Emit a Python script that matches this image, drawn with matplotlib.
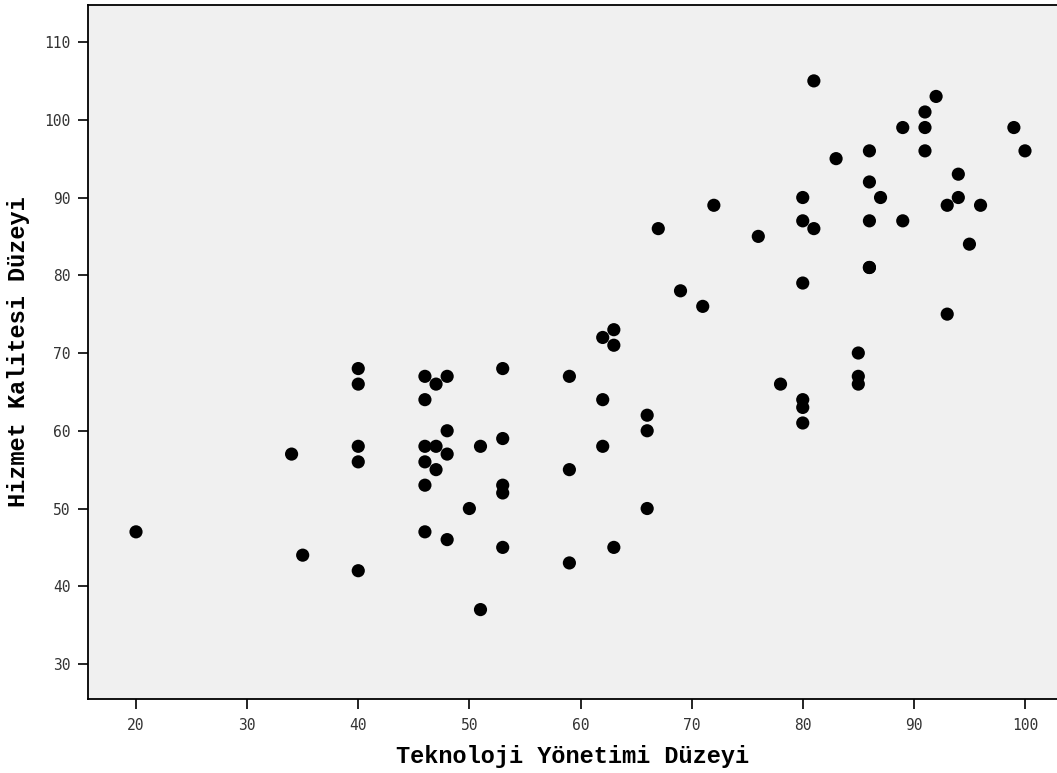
import matplotlib
matplotlib.use("Agg")
import matplotlib.pyplot as plt

# Teknoloji Yönetimi Düzeyi (x) vs Hizmet Kalitesi Düzeyi (y)
tek = [20, 34, 35, 40, 40, 40, 40, 40,
       46, 46, 46, 46, 46, 46, 47, 47, 47, 48, 48, 48, 48,
       50, 51, 51, 53, 53, 53, 53, 53,
       59, 59, 59, 62, 62, 62, 63, 63, 63, 66, 66, 66,
       67, 69, 71, 72, 76, 78, 80, 80, 80, 80, 80, 80,
       81, 81, 83, 85, 85, 85, 86, 86, 86, 86, 86, 87,
       89, 89, 91, 91, 91, 92, 93, 93, 94, 94, 95, 96, 99, 100]
hizmet = [47, 57, 44, 68, 66, 58, 56, 42,
          67, 64, 58, 56, 53, 47, 66, 58, 55, 67, 60, 57, 46,
          50, 58, 37, 68, 59, 53, 52, 45,
          67, 55, 43, 72, 64, 58, 73, 71, 45, 62, 60, 50,
          86, 78, 76, 89, 85, 66, 90, 87, 79, 64, 63, 61,
          105, 86, 95, 70, 67, 66, 96, 92, 87, 81, 81, 90,
          99, 87, 101, 99, 96, 103, 89, 75, 93, 90, 84, 89, 99, 96]

xticks = [20, 30, 40, 50, 60, 70, 80, 90, 100]
yticks = [30, 40, 50, 60, 70, 80, 90, 100, 110]

fig = plt.figure(figsize=(10.57, 7.73), dpi=100)
ax = fig.add_axes([88 / 1057, 1 - 699 / 773, 1 - 88 / 1057, 694 / 773])
ax.set_facecolor("#f0f0f0")

ax.scatter(tek, hizmet, s=90, color="black", edgecolors="none", zorder=3)

ax.set_xlim(15.68, 102.88)
ax.set_ylim(25.5, 114.76)
ax.set_xticks(xticks)
ax.set_yticks(yticks)

for side in ["left", "bottom", "top"]:
    ax.spines[side].set_linewidth(1.3)
    ax.spines[side].set_color("black")
ax.spines["right"].set_visible(False)

ax.tick_params(direction="out", length=7.5, width=1.2, color="black",
               labelsize=10.5, labelcolor="#333333")
ax.tick_params(axis="x", pad=6)
ax.tick_params(axis="y", pad=5)
for lbl in ax.get_xticklabels() + ax.get_yticklabels():
    lbl.set_family("DejaVu Sans Mono")

ax.set_xlabel("Teknoloji Yönetimi Düzeyi", family="Liberation Mono",
              fontweight="bold", fontsize=17, labelpad=9)
ax.set_ylabel("Hizmet Kalitesi Düzeyi", family="Liberation Mono",
              fontweight="bold", fontsize=17, labelpad=10)

fig.savefig("out.png", dpi=100)
